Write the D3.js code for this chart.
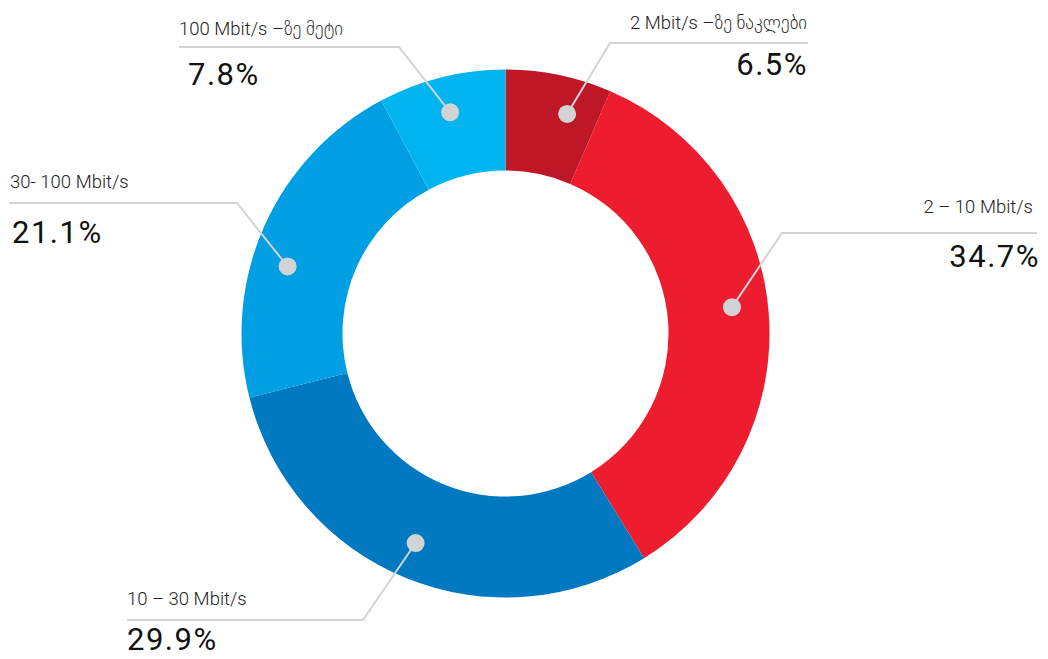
<!DOCTYPE html>
<html>
<head>
<meta charset="utf-8">
<script src="https://cdn.jsdelivr.net/npm/d3@7"></script>
<style>
  html, body { margin: 0; padding: 0; background: #fff; }
  svg { display: block; }
  .lbl { font-family: Roboto, "DejaVu Sans", sans-serif; font-weight: 300; font-size: 18.5px; fill: #222; }
  .pct { font-family: Roboto, "DejaVu Sans", sans-serif; font-weight: 400; font-size: 31px; fill: #111; letter-spacing: 1.5px; }
</style>
</head>
<body>
<script>
// ---- data ----
const categories = ["2 Mbit/s –ზე ნაკლები", "2 – 10 Mbit/s", "10 – 30 Mbit/s", "30- 100 Mbit/s", "100 Mbit/s –ზე მეტი"];
const values = [6.5, 34.7, 29.9, 21.1, 7.8];
const colors = ["#be1727", "#ee1c2f", "#0079c1", "#009fe3", "#00b5ef"];

// ---- layout (annotation placement) ----
const W = 1048, H = 659;
const cx = 505.5, cy = 333.5, rOuter = 264, rInner = 163, rDot = 228;
const dotFrac = [0.67, 0.48, 0.51, 0.41, 0.5];
const annot = [
  { elbow: [610, 43],  endX: 808,  anchor: "end",   lblX: 807,  lblY: 29,  pctX: 808,  pctY: 75 },
  { elbow: [782, 233], endX: 1037, anchor: "end",   lblX: 1033, lblY: 213, pctX: 1040, pctY: 267 },
  { elbow: [363, 620], endX: 127,  anchor: "start", lblX: 127,  lblY: 605, pctX: 127,  pctY: 650 },
  { elbow: [237, 203], endX: 9,    anchor: "start", lblX: 10,   lblY: 188, pctX: 12,   pctY: 243 },
  { elbow: [399, 47],  endX: 179,  anchor: "start", lblX: 179,  lblY: 35,  pctX: 188,  pctY: 85 }
];

const svg = d3.select("body").append("svg").attr("width", W).attr("height", H);

const pie = d3.pie().sort(null).value(d => d)(values);
const arc = d3.arc().innerRadius(rInner).outerRadius(rOuter);

const g = svg.append("g").attr("transform", `translate(${cx},${cy})`);
g.selectAll("path.slice").data(pie).enter().append("path")
  .attr("class", "slice")
  .attr("d", arc)
  .attr("fill", (d, i) => colors[i]);

const dots = pie.map((d, i) => {
  const a = d.startAngle + (d.endAngle - d.startAngle) * dotFrac[i];
  return [cx + rDot * Math.sin(a), cy - rDot * Math.cos(a)];
});

const lines = svg.append("g");
lines.selectAll("polyline").data(pie).enter().append("polyline")
  .attr("points", (d, i) => {
    const a = annot[i];
    return [dots[i], a.elbow, [a.endX, a.elbow[1]]].map(p => p.join(",")).join(" ");
  })
  .attr("fill", "none")
  .attr("stroke", "#d1d3d4")
  .attr("stroke-width", 2);

svg.append("g").selectAll("circle").data(dots).enter().append("circle")
  .attr("cx", d => d[0]).attr("cy", d => d[1]).attr("r", 9)
  .attr("fill", "#d1d3d4");

const tg = svg.append("g");
categories.forEach((c, i) => {
  const a = annot[i];
  tg.append("text").attr("class", "lbl")
    .attr("x", a.lblX).attr("y", a.lblY).attr("text-anchor", a.anchor).text(c);
  tg.append("text").attr("class", "pct")
    .attr("x", a.pctX).attr("y", a.pctY).attr("text-anchor", a.anchor)
    .text(values[i].toFixed(1) + "%");
});
</script>
</body>
</html>
